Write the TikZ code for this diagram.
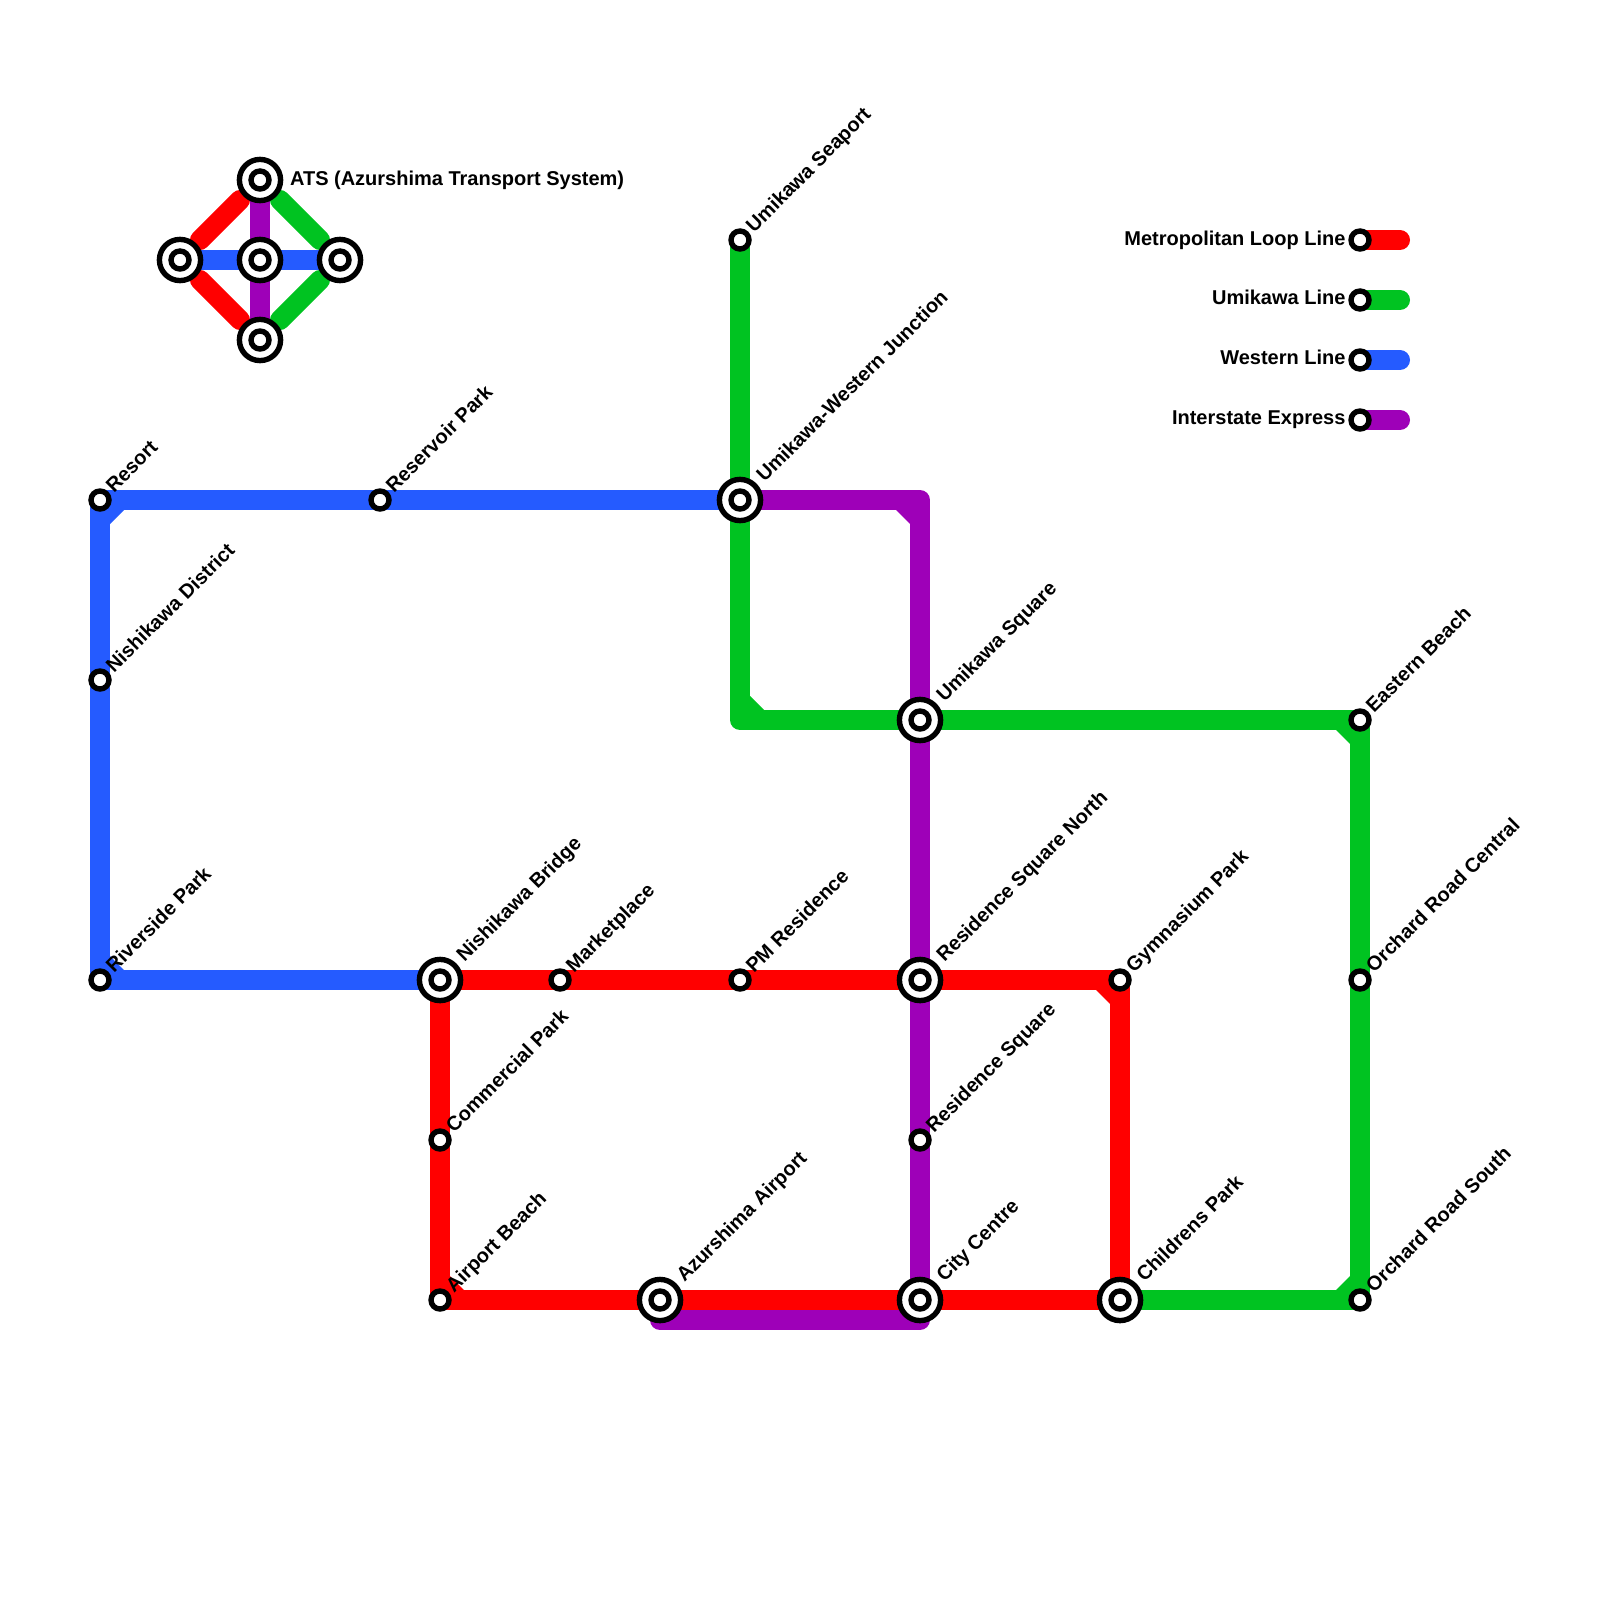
\documentclass[tikz,border=0pt]{standalone}
\usepackage{fontspec}
\setmainfont{Liberation Sans}
\definecolor{lred}{HTML}{FF0000}
\definecolor{lgreen}{HTML}{00C321}
\definecolor{lblue}{HTML}{255BFF}
\definecolor{lpurple}{HTML}{9E00B8}
\tikzset{
 metro/.style={line width=2cm,line cap=round,line join=round},
 small/.style={circle,draw=black,line width=0.54cm,fill=white,minimum size=1.8cm,inner sep=0pt,outer sep=0pt},
 big/.style={circle,draw=black,line width=0.54cm,fill=white,minimum size=4.12cm,inner sep=0pt,outer sep=0pt},
 lab/.style={rotate=45,anchor=base west,inner sep=0pt,font=\bfseries\fontsize{56.9}{60}\selectfont},
 hlab/.style={anchor=base west,inner sep=0pt,font=\bfseries\fontsize{56.9}{60}\selectfont},
 rlab/.style={anchor=base east,inner sep=0pt,font=\bfseries\fontsize{56.9}{60}\selectfont},
}
\begin{document}
\begin{tikzpicture}[x=0.1cm,y=-0.1cm]
\useasboundingbox (0,0) rectangle (1600,1600);
\fill[white] (0,0) rectangle (1600,1600);
% coordinates
\coordinate (ats) at (260,180); \coordinate (w) at (180,260); \coordinate (c) at (260,260);
\coordinate (e) at (340,260); \coordinate (s) at (260,340);
\coordinate (d1) at (200,240); \coordinate (d2) at (240,200);
\coordinate (d3) at (200,280); \coordinate (d4) at (240,320);
\coordinate (d5) at (280,200); \coordinate (d6) at (320,240);
\coordinate (d7) at (320,280); \coordinate (d8) at (280,320);
\coordinate (resort) at (100,500); \coordinate (reservoir) at (380,500);
\coordinate (uwj) at (740,500); \coordinate (seaport) at (740,240);
\coordinate (nd) at (100,680); \coordinate (river) at (100,980);
\coordinate (nb) at (440,980); \coordinate (market) at (560,980); \coordinate (pm) at (740,980);
\coordinate (rsn) at (920,980); \coordinate (gym) at (1120,980); \coordinate (orc) at (1360,980);
\coordinate (comm) at (440,1140); \coordinate (beach) at (440,1300); \coordinate (azu) at (660,1300);
\coordinate (city) at (920,1300); \coordinate (child) at (1120,1300); \coordinate (ors) at (1360,1300);
\coordinate (rs) at (920,1140); \coordinate (usq) at (920,720); \coordinate (east) at (1360,720);
\coordinate (pc) at (920,500); \coordinate (gc) at (740,720);
\coordinate (az2) at (660,1320); \coordinate (ci2) at (920,1320);
\coordinate (l1) at (1360,240); \coordinate (l2) at (1360,300); \coordinate (l3) at (1360,360); \coordinate (l4) at (1360,420);
\coordinate (e1) at (1400,240); \coordinate (e2) at (1400,300); \coordinate (e3) at (1400,360); \coordinate (e4) at (1400,420);
% purple
\draw[metro,lpurple] (uwj) -- (pc) -- (ci2) -- (az2);
\fill[lpurple] (896,510) -- (910,524) -- (910,510) -- cycle;
\draw[metro,lpurple] (ats) -- (s);
\draw[metro,lpurple] (l4) -- (e4);
% green
\draw[metro,lgreen] (seaport) -- (gc) -- (east) -- (ors) -- (child);
\fill[lgreen] (750,696) -- (764,710) -- (750,710) -- cycle;
\fill[lgreen] (1336,730) -- (1350,744) -- (1350,730) -- cycle;
\fill[lgreen] (1336,1290) -- (1350,1276) -- (1350,1290) -- cycle;
\draw[metro,lgreen] (d5) -- (d6);
\draw[metro,lgreen] (d7) -- (d8);
\draw[metro,lgreen] (l2) -- (e2);
% blue
\draw[metro,lblue] (uwj) -- (resort) -- (river) -- (nb);
\fill[lblue] (110,524) -- (124,510) -- (110,510) -- cycle;
\fill[lblue] (110,956) -- (124,970) -- (110,970) -- cycle;
\draw[metro,lblue] (w) -- (e);
\draw[metro,lblue] (l3) -- (e3);
% red
\draw[metro,lred] (nb) -- (gym) -- (child) -- (beach) -- cycle;
\fill[lred] (1096,990) -- (1110,1004) -- (1110,990) -- cycle;
\fill[lred] (450,1276) -- (464,1290) -- (450,1290) -- cycle;
\draw[metro,lred] (d1) -- (d2);
\draw[metro,lred] (d3) -- (d4);
\draw[metro,lred] (l1) -- (e1);
% stations
\foreach \n in {resort,reservoir,seaport,nd,river,market,pm,gym,orc,comm,beach,ors,rs,east,l1,l2,l3,l4}
  \node[small] (st-\n) at (\n) {};
\foreach \n in {ats,w,c,e,s,uwj,nb,rsn,azu,city,child,usq}{
  \node[big] (st-\n) at (\n) {};
  \node[small] at (\n) {};
}
% labels
\node[hlab] (t-ats) at (290,185) {ATS (Azurshima Transport System)};
\node[lab] (t1) at (114,493.5) {Resort};
\node[lab] (t2) at (394,493.5) {Reservoir Park};
\node[lab] (t3) at (754,233.5) {Umikawa Seaport};
\node[lab] (t4) at (764.5,483) {Umikawa-Western Junction};
\node[lab] (t5) at (114,673.5) {Nishikawa District};
\node[lab] (t6) at (114,973.5) {Riverside Park};
\node[lab] (t7) at (464.5,963) {Nishikawa Bridge};
\node[lab] (t8) at (574,973.5) {Marketplace};
\node[lab] (t9) at (754,973.5) {PM Residence};
\node[lab] (t10) at (944.5,963) {Residence Square North};
\node[lab] (t11) at (1134,973.5) {Gymnasium Park};
\node[lab] (t12) at (1374,973.5) {Orchard Road Central};
\node[lab] (t13) at (454,1133.5) {Commercial Park};
\node[lab] (t14) at (454,1293.5) {Airport Beach};
\node[lab] (t15) at (684.5,1283) {Azurshima Airport};
\node[lab] (t16) at (944.5,1283) {City Centre};
\node[lab] (t17) at (1144.5,1283) {Childrens Park};
\node[lab] (t18) at (1374,1293.5) {Orchard Road South};
\node[lab] (t19) at (934,1133.5) {Residence Square};
\node[lab] (t20) at (944.5,703) {Umikawa Square};
\node[lab] (t21) at (1374,713.5) {Eastern Beach};
\node[rlab] (k1) at (1345.5,245) {Metropolitan Loop Line};
\node[rlab] (k2) at (1345.5,304.5) {Umikawa Line};
\node[rlab] (k3) at (1345.5,364.5) {Western Line};
\node[rlab] (k4) at (1345.5,424.5) {Interstate Express};
\end{tikzpicture}
\end{document}
